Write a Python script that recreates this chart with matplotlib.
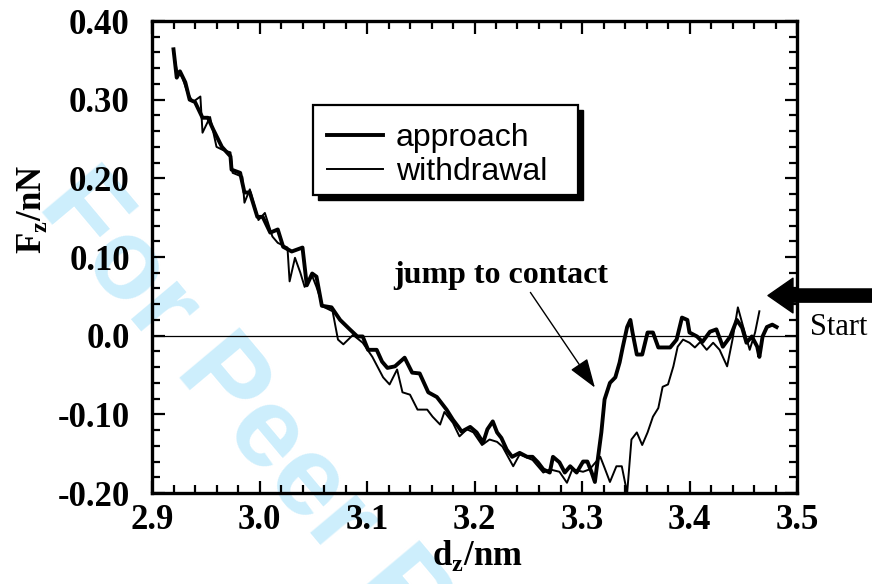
import matplotlib
matplotlib.use("Agg")
import matplotlib.pyplot as plt
from matplotlib.patches import Rectangle
from matplotlib.ticker import MultipleLocator, FixedLocator, FixedFormatter

# ─────────────────────────────────────────────────────────────
# Data
# ─────────────────────────────────────────────────────────────
approach_d = [
    2.920, 2.923, 2.926, 2.931, 2.935, 2.940, 2.947, 2.952, 2.957, 2.965,
    2.973, 2.974, 2.982, 2.986, 2.991, 2.998, 3.003, 3.010, 3.017, 3.022,
    3.030, 3.040, 3.044, 3.049, 3.053, 3.058, 3.067, 3.075, 3.084, 3.091,
    3.096, 3.101, 3.109, 3.114, 3.119, 3.126, 3.135, 3.142, 3.149, 3.157,
    3.165, 3.174, 3.180, 3.185, 3.188, 3.196, 3.202, 3.208, 3.212, 3.217,
    3.221, 3.225, 3.230, 3.235, 3.242, 3.249, 3.254, 3.259, 3.264, 3.270,
    3.273, 3.279, 3.284, 3.289, 3.295, 3.301, 3.305, 3.309, 3.312, 3.315,
    3.318, 3.321, 3.326, 3.331, 3.335, 3.338, 3.342, 3.345, 3.347, 3.351,
    3.356, 3.361, 3.366, 3.371, 3.382, 3.388, 3.393, 3.398, 3.400, 3.407,
    3.412, 3.419, 3.425, 3.431, 3.438, 3.444, 3.449, 3.453, 3.458, 3.463,
    3.465, 3.468, 3.472, 3.477, 3.481,
]
approach_f = [
    0.364, 0.328, 0.336, 0.322, 0.300, 0.297, 0.277, 0.277, 0.262, 0.240,
    0.228, 0.211, 0.207, 0.182, 0.182, 0.151, 0.151, 0.131, 0.135, 0.113,
    0.107, 0.112, 0.064, 0.079, 0.075, 0.038, 0.036, 0.020, 0.008, -0.001,
    -0.001, -0.018, -0.018, -0.033, -0.041, -0.039, -0.028, -0.047, -0.048, -0.072,
    -0.078, -0.094, -0.107, -0.116, -0.122, -0.116, -0.123, -0.136, -0.119, -0.109,
    -0.123, -0.130, -0.145, -0.154, -0.149, -0.154, -0.154, -0.161, -0.170, -0.174,
    -0.154, -0.161, -0.174, -0.166, -0.174, -0.160, -0.160, -0.174, -0.186, -0.154,
    -0.123, -0.081, -0.060, -0.053, -0.034, -0.014, 0.011, 0.020, 0.004, -0.024,
    -0.024, 0.004, 0.004, -0.015, -0.015, -0.005, 0.023, 0.020, 0.004, -0.001,
    -0.008, 0.005, 0.008, -0.014, -0.001, 0.020, 0.010, -0.009, -0.001, -0.014,
    -0.027, -0.001, 0.011, 0.014, 0.011,
]

withdrawal_d = [
    2.920, 2.923, 2.928, 2.933, 2.938, 2.945, 2.947, 2.954, 2.960, 2.966,
    2.973, 2.975, 2.984, 2.986, 2.991, 2.999, 3.005, 3.012, 3.017, 3.026,
    3.028, 3.033, 3.038, 3.042, 3.049, 3.053, 3.059, 3.068, 3.073, 3.078,
    3.087, 3.096, 3.105, 3.115, 3.121, 3.128, 3.133, 3.140, 3.147, 3.156,
    3.161, 3.168, 3.172, 3.180, 3.186, 3.193, 3.199, 3.207, 3.214, 3.221,
    3.226, 3.236, 3.242, 3.254, 3.264, 3.270, 3.279, 3.286, 3.291, 3.301,
    3.307, 3.317, 3.321, 3.326, 3.332, 3.337, 3.342, 3.346, 3.351, 3.356,
    3.361, 3.366, 3.371, 3.375, 3.380, 3.385, 3.389, 3.394, 3.400, 3.405,
    3.410, 3.416, 3.422, 3.428, 3.435, 3.440, 3.445, 3.450, 3.456, 3.461,
    3.465,
]
withdrawal_f = [
    0.360, 0.338, 0.329, 0.309, 0.297, 0.304, 0.258, 0.278, 0.240, 0.236,
    0.233, 0.207, 0.202, 0.169, 0.186, 0.147, 0.156, 0.126, 0.118, 0.112,
    0.069, 0.099, 0.080, 0.062, 0.076, 0.062, 0.037, 0.031, -0.005, -0.011,
    0.001, -0.009, -0.027, -0.053, -0.062, -0.043, -0.072, -0.075, -0.094, -0.094,
    -0.103, -0.113, -0.097, -0.111, -0.128, -0.119, -0.123, -0.139, -0.132, -0.135,
    -0.141, -0.166, -0.151, -0.158, -0.174, -0.170, -0.173, -0.187, -0.170, -0.173,
    -0.170, -0.154, -0.168, -0.186, -0.166, -0.166, -0.200, -0.132, -0.123, -0.139,
    -0.123, -0.103, -0.092, -0.065, -0.062, -0.039, -0.014, -0.005, -0.009, -0.015,
    -0.008, -0.018, -0.009, -0.018, -0.039, -0.005, 0.036, 0.011, -0.018, 0.004,
    0.031,
]

x_ticks = [2.9, 3.0, 3.1, 3.2, 3.3, 3.4, 3.5]
x_tick_labels = ["2.9", "3.0", "3.1", "3.2", "3.3", "3.4", "3.5"]
y_ticks = [-0.2, -0.1, 0.0, 0.1, 0.2, 0.3, 0.4]
y_tick_labels = ["-0.20", "-0.10", "0.0", "0.10", "0.20", "0.30", "0.40"]

SERIF = "Liberation Serif"
SANS = "Liberation Sans"
plt.rcParams["mathtext.fontset"] = "custom"
plt.rcParams["mathtext.bf"] = "Liberation Serif:bold"
plt.rcParams["mathtext.rm"] = "Liberation Serif"

fig = plt.figure(figsize=(8.72, 5.84), dpi=100)
fig.patch.set_facecolor("white")
ax = fig.add_axes([152 / 872, 1 - 493 / 584, 645 / 872, 472 / 584])
ax.set_facecolor("none")

# watermark
fig.text(36 / 872, 1 - 206 / 584, "For Peer Review", rotation=-50,
         rotation_mode="anchor", ha="left", va="baseline",
         fontsize=82, fontweight="bold", family=SANS, color="#cdeefc",
         zorder=-5)

ax.axhline(0.0, color="black", lw=0.9, zorder=1)
ax.plot(withdrawal_d, withdrawal_f, color="black", lw=1.4, zorder=3,
        label="withdrawal")
ax.plot(approach_d, approach_f, color="black", lw=2.8, zorder=3,
        label="approach")

ax.set_xlim(2.9, 3.5)
ax.set_ylim(-0.2, 0.4)
ax.xaxis.set_major_locator(FixedLocator(x_ticks))
ax.xaxis.set_major_formatter(FixedFormatter(x_tick_labels))
ax.xaxis.set_minor_locator(MultipleLocator(0.02))
ax.yaxis.set_major_locator(FixedLocator(y_ticks))
ax.yaxis.set_major_formatter(FixedFormatter(y_tick_labels))
ax.yaxis.set_minor_locator(MultipleLocator(0.02))

ax.tick_params(which="both", direction="in", top=True, right=True, width=1.6)
ax.tick_params(which="major", length=9)
ax.tick_params(which="minor", length=5.5)
ax.tick_params(axis="x", which="major", pad=8)
ax.tick_params(axis="y", which="major", pad=16)
for lab in ax.get_xticklabels() + ax.get_yticklabels():
    lab.set_family(SERIF)
    lab.set_fontweight("bold")
    lab.set_fontsize(25)
for sp in ax.spines.values():
    sp.set_linewidth(2.4)

ax.set_xlabel(r"d$_{\mathbf{z}}$/nm", family=SERIF, fontweight="bold", fontsize=25)
ax.set_ylabel(r"F$_{\mathbf{z}}$/nN", family=SERIF, fontweight="bold", fontsize=25)
ax.xaxis.set_label_coords(0.505, -0.095)
ax.yaxis.set_label_coords(-0.16, 0.60)

# legend box with black drop shadow
bx0, by0, bx1, by1 = 313, 105, 578, 195
ax.add_patch(Rectangle(((bx0 + 5) / 872, 1 - (by1 + 5) / 584),
                       (bx1 - bx0) / 872, (by1 - by0) / 584,
                       transform=fig.transFigure, facecolor="black",
                       edgecolor="black", zorder=4))
ax.add_patch(Rectangle((bx0 / 872, 1 - by1 / 584),
                       (bx1 - bx0) / 872, (by1 - by0) / 584,
                       transform=fig.transFigure, facecolor="white",
                       edgecolor="black", lw=1.6, zorder=4.5))
handles, labels = ax.get_legend_handles_labels()
leg = ax.legend(handles[::-1], labels[::-1], loc="center left",
                bbox_to_anchor=(327 / 872, 1 - 155 / 584),
                bbox_transform=fig.transFigure, frameon=False,
                borderaxespad=0, borderpad=0, handlelength=1.75,
                handletextpad=0.4, labelspacing=0.12,
                prop={"family": SANS, "size": 23})
leg.set_zorder(6)

# annotations
ax.text(3.224, 0.067, "jump to contact", ha="center", va="baseline",
        family=SERIF, fontweight="bold", fontsize=23, zorder=5)
ax.annotate("", xy=(3.312, -0.066), xytext=(3.252, 0.055),
            arrowprops=dict(arrowstyle="-|>,head_length=1.3,head_width=0.45",
                            color="black", lw=1.0, shrinkA=0, shrinkB=0,
                            mutation_scale=14))
ax.annotate("", xy=(3.473, 0.051), xytext=(3.58, 0.051),
            annotation_clip=False,
            arrowprops=dict(arrowstyle="simple,head_length=1.8,head_width=2.5,tail_width=0.95",
                            fc="black", ec="black", shrinkA=0, shrinkB=0,
                            mutation_scale=10))
ax.text(3.512, 0.010, "Start", ha="left", va="center", family=SERIF,
        fontsize=22, clip_on=False)

fig.savefig("out.png", dpi=100, facecolor="white")
